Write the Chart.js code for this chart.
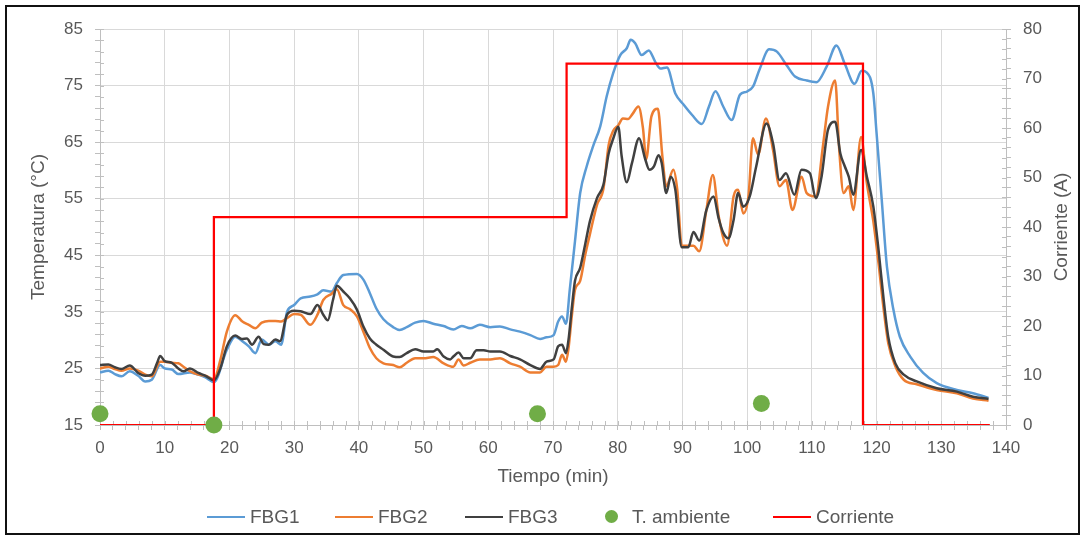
<!DOCTYPE html>
<html>
<head>
<meta charset="utf-8">
<script src="https://cdn.jsdelivr.net/npm/chart.js@4.4.0/dist/chart.umd.min.js"></script>
<style>
  html, body { margin: 0; padding: 0; background: #fff; overflow: hidden; }
  #wrap { position: absolute; left: 0; top: 0; width: 1083px; height: 537px; }
  #frame { position: absolute; left: 5px; top: 5px; width: 1071px; height: 526px; border: 2px solid #111; pointer-events: none; }
  #legend { position: absolute; left: 0; top: 505px; height: 24px; width: 1083px;
    font: 19px 'Liberation Sans', Arial, sans-serif; color: #595959; }
  .item { position: absolute; top: 0; height: 24px; display: flex; align-items: center; white-space: nowrap; }
  .swatch { width: 38px; height: 2.5px; margin-right: 5px; }
  .dotbox { width: 38px; height: 14px; margin-right: 2px; display: flex; justify-content: center; }
  .dotbox span { width: 13px; height: 13px; border-radius: 50%; display: block; }
</style>
</head>
<body>
<div id="wrap"><canvas id="tempChart"></canvas></div>
<div id="legend"></div>
<div id="frame"></div>
<script>
// Time (min) and temperature (°C) for each sensor
const timeFBG1 = [0, 1.3, 2.3, 3.3, 4.6, 5.9, 7, 8, 9.3, 10, 11.1, 12.1, 13.9, 15.2, 16.3, 17.6, 19.6, 20.9, 22, 23,
  24, 25, 26.1, 27.1, 28, 28.9, 30, 31, 32.5, 33.6, 34.5, 35.8, 36.6, 37.6, 39.7, 40.7, 41.7, 42.7, 43.8, 45.3,
  46.3, 47.4, 48.7, 50, 51.5, 53.1, 54.6, 55.9, 57.2, 58.7, 60.3, 61.8, 63.4, 64.9, 66.5, 68, 69, 70.1, 70.8, 71.4,
  72, 72.6, 73.4, 74.2, 75.2, 76.2, 77.3, 78.3, 79.3, 80.4, 81.4, 82, 82.7, 83.7, 84.8, 85.8, 86.6, 87.6, 88.9, 90.2,
  91.5, 93, 94.1, 95.1, 96.3, 97.6, 98.9, 99.9, 100.9, 101.9, 103.4, 104.6, 106.1, 107.4, 109.2, 110.7, 112.3, 113.8, 115.1, 116.6,
  117.7, 118.5, 119.5, 120, 120.8, 121.6, 122.6, 123.6, 125.2, 127.2, 129.3, 132.4, 134.9, 137.3];
const fbg1 = [24.3, 24.6, 24.0, 23.6, 24.5, 23.7, 22.7, 23.0, 25.6, 25.0, 24.8, 24.0, 24.3, 23.9, 23.4, 22.6, 28.3, 30.6, 29.8, 28.9,
  27.7, 30.1, 29.2, 29.8, 29.2, 35.0, 36.2, 37.4, 37.7, 38.1, 38.8, 38.6, 40.1, 41.5, 41.7, 40.7, 38.3, 35.6, 33.7, 32.3,
  31.8, 32.3, 33.1, 33.4, 32.9, 32.5, 31.9, 32.5, 32.1, 32.7, 32.3, 32.4, 31.9, 31.5, 30.9, 30.2, 30.5, 30.9, 33.3, 34.2,
  32.9, 39.0, 47.5, 56.0, 60.7, 64.3, 67.8, 73.1, 77.2, 80.4, 81.6, 83.1, 82.5, 80.4, 81.2, 79.2, 78.0, 78.2, 73.6, 71.6,
  69.8, 68.2, 71.3, 74.0, 71.3, 68.9, 73.4, 73.9, 74.8, 77.8, 81.4, 81.0, 78.6, 76.6, 75.9, 75.6, 78.4, 82.1, 78.8, 75.3,
  77.6, 77.3, 73.6, 66.6, 54.8, 43.0, 35.4, 30.6, 27.1, 24.2, 22.4, 21.2, 20.6, 19.8];

const timeFBG2 = [0, 1.3, 2.3, 3.3, 4.6, 5.9, 7, 8, 9.3, 10, 11.1, 12.1, 12.9, 13.9, 15.2, 16.3, 17.6, 18.6, 19.6, 20.9,
  22, 23, 24, 25, 26.1, 27.1, 28, 28.9, 30, 31, 32.5, 33.6, 34.5, 35.8, 36.6, 37.6, 38.6, 39.7, 40.7, 41.7,
  42.7, 43.8, 45.3, 46.3, 47.4, 48.7, 50, 51.5, 53.1, 54.6, 55.4, 56.2, 57.2, 58.7, 60.3, 61.8, 63.4, 64.9, 66.5, 68,
  69, 70.1, 70.8, 71.4, 72, 72.4, 72.9, 73.4, 74.2, 75, 75.7, 76.8, 77.8, 78.6, 79.3, 80.1, 80.8, 81.6, 82.3, 83.2,
  83.9, 84.4, 85.2, 86.2, 86.9, 87.5, 88.6, 89.2, 89.9, 90.9, 91.7, 92.6, 93.7, 94.7, 95.6, 96.9, 97.9, 98.6, 99.4, 100.2,
  100.9, 101.7, 102.9, 104, 105, 106, 107, 108.4, 109.2, 110.6, 111.7, 112.5, 113.6, 114.2, 114.9, 115.7, 116.4, 117.6, 118.5, 119.5,
  120.3, 121.1, 121.8, 122.9, 124.2, 126.2, 129.3, 132.4, 134.9, 137.3];
const fbg2 = [25.0, 25.3, 24.9, 24.6, 25.0, 24.6, 23.9, 23.6, 26.2, 26.2, 26.0, 25.9, 25.3, 24.5, 23.9, 23.7, 23.1, 26.5, 31.5, 34.4,
  33.3, 32.7, 32.1, 33.1, 33.4, 33.4, 33.3, 33.9, 34.6, 34.5, 32.7, 34.5, 37.1, 38.2, 39.0, 36.2, 35.5, 34.2, 31.5, 28.6,
  26.8, 25.9, 25.6, 25.2, 26.0, 26.8, 26.8, 27.0, 25.9, 25.3, 26.6, 25.5, 26.0, 26.6, 26.6, 26.8, 25.9, 25.3, 24.3, 24.3,
  25.3, 25.3, 25.6, 27.4, 26.2, 28.6, 34.2, 38.9, 40.5, 45.2, 48.7, 53.9, 56.8, 64.5, 67.0, 68.0, 69.2, 69.1, 70.0, 71.3,
  67.5, 62.0, 69.5, 70.9, 62.5, 57.2, 60.1, 56.6, 46.7, 46.7, 46.7, 45.7, 53.0, 59.2, 51.9, 46.7, 55.4, 56.6, 52.4, 55.4,
  65.7, 62.8, 69.2, 63.6, 57.2, 58.3, 53.0, 58.9, 56.0, 55.4, 64.2, 71.3, 75.9, 64.2, 56.0, 57.2, 53.0, 65.9, 57.7, 51.0,
  43.6, 35.4, 29.5, 25.4, 23.0, 22.2, 21.2, 20.6, 19.7, 19.3];

const timeFBG3 = [0, 1.3, 2.3, 3.3, 4.6, 5.9, 7, 8, 8.8, 9.3, 10, 11.1, 12.1, 12.9, 13.9, 15.2, 16.3, 17.6, 18.6, 19.6,
  20.9, 21.9, 22.7, 23.5, 24.5, 25.3, 26.1, 27.1, 27.8, 28.9, 30, 31, 32.5, 33.6, 34.5, 35.2, 36, 36.6, 37.6, 38.6,
  39.7, 40.7, 41.7, 42.7, 43.8, 45.3, 46.3, 47.4, 48.7, 50, 51.5, 52.1, 53.1, 54.1, 54.6, 55.4, 56.2, 57.2, 58.2, 59.3,
  60.3, 61.8, 63.4, 64.9, 66.5, 68, 69, 70.1, 70.8, 71.4, 72, 72.4, 72.9, 73.4, 74.2, 75, 75.7, 76.8, 77.8, 78.6,
  79.3, 80.1, 80.6, 81.4, 82.2, 83.3, 84.2, 84.9, 85.6, 86.3, 86.8, 87.5, 88.2, 88.9, 89.9, 90.9, 91.7, 92.6, 93.7, 94.8,
  95.6, 96.3, 97.1, 97.9, 98.6, 99.4, 100.4, 101.4, 103, 104, 105, 106, 107.3, 108.4, 109.7, 110.6, 111.5, 112.5, 113.6, 114.4,
  115.1, 115.7, 116.4, 117.6, 118.5, 119.5, 120.3, 121.1, 121.8, 122.9, 124.2, 126.2, 129.3, 132.4, 134.9, 137.3];
const fbg3 = [25.6, 25.7, 25.2, 24.9, 25.5, 24.2, 23.7, 23.9, 25.9, 27.2, 26.3, 26.0, 25.0, 24.5, 25.0, 24.2, 23.7, 22.9, 25.0, 28.9,
  30.8, 30.2, 30.3, 29.2, 30.6, 29.3, 29.2, 30.1, 29.8, 34.5, 35.2, 35.1, 34.6, 36.2, 34.5, 33.5, 37.1, 39.6, 38.6, 37.4,
  35.4, 32.4, 30.3, 29.2, 28.3, 27.1, 27.0, 27.7, 28.4, 28.0, 28.0, 28.4, 27.1, 26.6, 27.1, 27.8, 26.8, 26.8, 28.2, 28.2,
  28.0, 28.0, 27.2, 26.6, 25.6, 24.9, 26.2, 26.6, 28.9, 29.2, 27.7, 30.1, 35.6, 40.5, 42.8, 47.1, 51.0, 55.1, 57.5, 63.0,
  65.6, 67.7, 62.6, 57.9, 61.3, 65.7, 62.2, 60.1, 60.7, 62.7, 61.3, 56.0, 58.9, 56.6, 46.4, 46.4, 49.1, 47.6, 53.0, 55.4,
  51.5, 49.0, 48.0, 51.2, 56.0, 53.6, 55.4, 60.7, 68.3, 64.8, 58.3, 59.5, 55.7, 60.1, 59.5, 55.1, 58.9, 67.2, 68.6, 63.0,
  60.7, 58.9, 55.7, 63.6, 58.9, 53.6, 46.0, 37.1, 30.6, 25.9, 23.9, 22.7, 21.5, 20.9, 20.0, 19.6];

// Ambient temperature readings (°C)
const timeAmb = [0, 17.6, 67.6, 102.2];
const tempAmb = [17.0, 15.0, 17.0, 18.8];

// Current (A), step profile
const timeCur = [0, 17.6, 17.6, 72.1, 72.1, 117.9, 117.9, 137.5];
const current = [0, 0, 42, 42, 73, 73, 0, 0];

const toPoints = (xs, ys) => xs.map((x, i) => ({ x: x, y: ys[i] }));

const textColor = '#595959';
const gridColor = '#d9d9d9';
const axisColor = '#bfbfbf';
Chart.defaults.font.family = "'Liberation Sans', Arial, sans-serif";
Chart.defaults.color = textColor;

// Excel-style tick marks also poke 4px into the plot area
const innerTicks = {
  id: 'innerTicks',
  beforeDatasetsDraw(chart) {
    const ctx = chart.ctx;
    const area = chart.chartArea;
    ctx.save();
    ctx.strokeStyle = axisColor;
    ctx.lineWidth = 1;
    ctx.beginPath();
    chart.scales.x.ticks.forEach(t => {
      const px = Math.round(chart.scales.x.getPixelForValue(t.value)) + 0.5;
      ctx.moveTo(px, area.bottom); ctx.lineTo(px, area.bottom - 4);
    });
    chart.scales.y.ticks.forEach(t => {
      const py = Math.round(chart.scales.y.getPixelForValue(t.value)) + 0.5;
      ctx.moveTo(area.left, py); ctx.lineTo(area.left + 4, py);
    });
    chart.scales.y2.ticks.forEach(t => {
      const py = Math.round(chart.scales.y2.getPixelForValue(t.value)) + 0.5;
      ctx.moveTo(area.right, py); ctx.lineTo(area.right - 4, py);
    });
    ctx.stroke();
    ctx.restore();
  }
};

// right axis title reads bottom-to-top like the left one
const rightTitle = {
  id: 'rightTitle',
  afterDraw(chart) {
    const ctx = chart.ctx;
    const area = chart.chartArea;
    ctx.save();
    ctx.translate(1062, (area.top + area.bottom) / 2);
    ctx.rotate(-Math.PI / 2);
    ctx.font = "19px 'Liberation Sans', Arial, sans-serif";
    ctx.fillStyle = textColor;
    ctx.textAlign = 'center';
    ctx.textBaseline = 'middle';
    ctx.fillText('Corriente (A)', 0, 0);
    ctx.restore();
  }
};

const data = {
  datasets: [
    { label: 'FBG1', data: toPoints(timeFBG1, fbg1), borderColor: '#5b9bd5', backgroundColor: '#5b9bd5', borderWidth: 2.5, order: 4 },
    { label: 'FBG2', data: toPoints(timeFBG2, fbg2), borderColor: '#ed7d31', backgroundColor: '#ed7d31', borderWidth: 2.5, order: 3 },
    { label: 'FBG3', data: toPoints(timeFBG3, fbg3), borderColor: '#404040', backgroundColor: '#404040', borderWidth: 2.5, order: 2 },
    { label: 'T. ambiente', data: toPoints(timeAmb, tempAmb), showLine: false, pointRadius: 8.5, borderWidth: 0,
      backgroundColor: '#70ad47', borderColor: '#70ad47', clip: false, order: 0 },
    { label: 'Corriente', data: toPoints(timeCur, current), yAxisID: 'y2', borderColor: '#ff0000', backgroundColor: '#ff0000',
      borderWidth: 2.25, tension: 0, cubicInterpolationMode: 'default', order: 1 }
  ]
};

const config = {
  type: 'line',
  data: data,
  options: {
    responsive: true,
    maintainAspectRatio: false,
    animation: false,
    layout: { padding: { top: 29, left: 0, right: 0, bottom: 44 } },
    elements: {
      point: { radius: 0 },
      line: { cubicInterpolationMode: 'monotone' }
    },
    scales: {
      x: {
        type: 'linear', min: 0, max: 140,
        afterFit: s => { s.height = 68; },
        ticks: { stepSize: 2, autoSkip: false, maxRotation: 0, padding: 8, font: { size: 17 },
          callback: v => (v % 10 === 0 ? v : '') },
        grid: { color: c => (c.tick && c.tick.value % 10 === 0 ? gridColor : 'rgba(0,0,0,0)'),
          tickColor: axisColor, tickLength: 5 },
        border: { color: axisColor },
        title: { display: true, text: 'Tiempo (min)', font: { size: 19 }, padding: { top: 0, bottom: 5 } }
      },
      y: {
        position: 'left', min: 15, max: 85,
        afterFit: s => { s.width = 100; },
        ticks: { stepSize: 2, autoSkip: false, padding: 12, font: { size: 17 },
          callback: v => (v % 10 === 5 ? v : '') },
        grid: { color: c => (c.tick && c.tick.value % 10 === 5 ? gridColor : 'rgba(0,0,0,0)'),
          tickColor: axisColor, tickLength: 5 },
        border: { color: axisColor },
        title: { display: true, text: 'Temperatura (°C)', font: { size: 19 }, padding: { top: 27, bottom: 0 } }
      },
      y2: {
        position: 'right', min: 0, max: 80,
        afterFit: s => { s.width = 77; },
        ticks: { stepSize: 2, autoSkip: false, padding: 12, font: { size: 17 },
          callback: v => (v % 10 === 0 ? v : '') },
        grid: { drawOnChartArea: false, tickColor: axisColor, tickLength: 5 },
        border: { color: axisColor }
      }
    },
    plugins: {
      tooltip: { enabled: false },
      legend: { display: false }
    }
  },
  plugins: [innerTicks, rightTitle]
};

// legend below the axis title, one entry per dataset
const legendLeft = [207, 335, 465, 592, 773];
function buildLegend() {
  const box = document.getElementById('legend');
  data.datasets.forEach((ds, i) => {
    const item = document.createElement('div');
    item.className = 'item';
    item.style.left = legendLeft[i] + 'px';
    const mark = document.createElement('div');
    if (ds.showLine === false) {
      mark.className = 'dotbox';
      const d = document.createElement('span');
      d.style.background = ds.backgroundColor;
      mark.appendChild(d);
    } else {
      mark.className = 'swatch';
      mark.style.background = ds.borderColor;
    }
    const label = document.createElement('span');
    label.textContent = ds.label;
    item.appendChild(mark);
    item.appendChild(label);
    box.appendChild(item);
  });
}

window.addEventListener('DOMContentLoaded', () => {
  const tempChart = new Chart(document.getElementById('tempChart'), config);
  buildLegend();
});
</script>
</body>
</html>
